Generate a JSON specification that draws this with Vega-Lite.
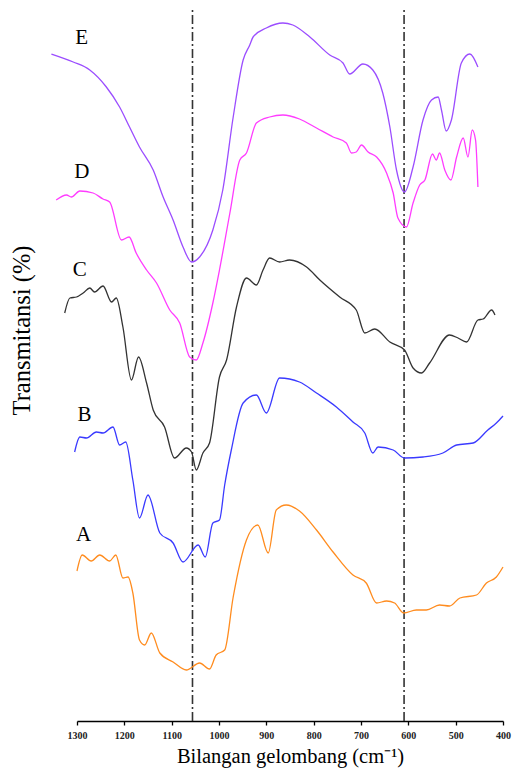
{
  "$schema": "https://vega.github.io/schema/vega-lite/v6.json",
  "width": 426,
  "height": 721,
  "autosize": {"type": "none"},
  "padding": {"left": 77, "top": 0, "right": 9, "bottom": 52},
  "background": "white",
  "config": {"view": {"stroke": null}, "font": "Liberation Serif"},
  "datasets": {
    "spectra": [
      {"s":"E","wn":1354,"t":667},{"s":"E","wn":1308,"t":659},{"s":"E","wn":1273,"t":651},{"s":"E","wn":1238,"t":634},{"s":"E","wn":1210,"t":614},{"s":"E","wn":1189,"t":594},{"s":"E","wn":1168,"t":574},{"s":"E","wn":1139,"t":551},{"s":"E","wn":1118,"t":524},{"s":"E","wn":1097,"t":501},{"s":"E","wn":1076,"t":474},{"s":"E","wn":1058,"t":459},{"s":"E","wn":1041,"t":464},{"s":"E","wn":1013,"t":491},{"s":"E","wn":992,"t":531},{"s":"E","wn":970,"t":604},{"s":"E","wn":949,"t":661},{"s":"E","wn":935,"t":676},{"s":"E","wn":928,"t":684},{"s":"E","wn":900,"t":693},{"s":"E","wn":865,"t":698},{"s":"E","wn":844,"t":696},{"s":"E","wn":808,"t":684},{"s":"E","wn":766,"t":666},{"s":"E","wn":738,"t":658},{"s":"E","wn":724,"t":647},{"s":"E","wn":696,"t":657},{"s":"E","wn":675,"t":651},{"s":"E","wn":654,"t":628},{"s":"E","wn":639,"t":594},{"s":"E","wn":625,"t":551},{"s":"E","wn":608,"t":529},{"s":"E","wn":590,"t":554},{"s":"E","wn":569,"t":601},{"s":"E","wn":551,"t":621},{"s":"E","wn":537,"t":624},{"s":"E","wn":530,"t":611},{"s":"E","wn":520,"t":590},{"s":"E","wn":509,"t":601},{"s":"E","wn":488,"t":658},{"s":"E","wn":470,"t":667},{"s":"E","wn":453,"t":654},
      {"s":"D","wn":1344,"t":521},{"s":"D","wn":1322,"t":526},{"s":"D","wn":1312,"t":524},{"s":"D","wn":1294,"t":530},{"s":"D","wn":1266,"t":528},{"s":"D","wn":1245,"t":522},{"s":"D","wn":1231,"t":519},{"s":"D","wn":1206,"t":481},{"s":"D","wn":1190,"t":484},{"s":"D","wn":1175,"t":468},{"s":"D","wn":1153,"t":451},{"s":"D","wn":1132,"t":438},{"s":"D","wn":1104,"t":411},{"s":"D","wn":1083,"t":398},{"s":"D","wn":1062,"t":364},{"s":"D","wn":1048,"t":361},{"s":"D","wn":1034,"t":378},{"s":"D","wn":1013,"t":418},{"s":"D","wn":999,"t":451},{"s":"D","wn":977,"t":508},{"s":"D","wn":956,"t":561},{"s":"D","wn":942,"t":568},{"s":"D","wn":921,"t":598},{"s":"D","wn":893,"t":604},{"s":"D","wn":865,"t":606},{"s":"D","wn":830,"t":602},{"s":"D","wn":794,"t":593},{"s":"D","wn":759,"t":584},{"s":"D","wn":731,"t":578},{"s":"D","wn":720,"t":568},{"s":"D","wn":710,"t":569},{"s":"D","wn":699,"t":576},{"s":"D","wn":685,"t":569},{"s":"D","wn":667,"t":564},{"s":"D","wn":646,"t":548},{"s":"D","wn":632,"t":528},{"s":"D","wn":622,"t":503},{"s":"D","wn":604,"t":494},{"s":"D","wn":590,"t":518},{"s":"D","wn":576,"t":536},{"s":"D","wn":565,"t":541},{"s":"D","wn":549,"t":567},{"s":"D","wn":541,"t":561},{"s":"D","wn":534,"t":568},{"s":"D","wn":523,"t":551},{"s":"D","wn":510,"t":541},{"s":"D","wn":498,"t":564},{"s":"D","wn":484,"t":583},{"s":"D","wn":474,"t":564},{"s":"D","wn":465,"t":591},{"s":"D","wn":458,"t":581},{"s":"D","wn":453,"t":534},
      {"s":"C","wn":1326,"t":408},{"s":"C","wn":1315,"t":423},{"s":"C","wn":1301,"t":424},{"s":"C","wn":1287,"t":428},{"s":"C","wn":1273,"t":433},{"s":"C","wn":1263,"t":429},{"s":"C","wn":1245,"t":435},{"s":"C","wn":1227,"t":419},{"s":"C","wn":1217,"t":423},{"s":"C","wn":1203,"t":394},{"s":"C","wn":1185,"t":341},{"s":"C","wn":1170,"t":364},{"s":"C","wn":1153,"t":338},{"s":"C","wn":1139,"t":311},{"s":"C","wn":1115,"t":294},{"s":"C","wn":1094,"t":263},{"s":"C","wn":1069,"t":273},{"s":"C","wn":1058,"t":269},{"s":"C","wn":1048,"t":251},{"s":"C","wn":1034,"t":268},{"s":"C","wn":1020,"t":278},{"s":"C","wn":999,"t":344},{"s":"C","wn":984,"t":361},{"s":"C","wn":963,"t":414},{"s":"C","wn":942,"t":443},{"s":"C","wn":921,"t":436},{"s":"C","wn":907,"t":451},{"s":"C","wn":893,"t":463},{"s":"C","wn":872,"t":459},{"s":"C","wn":851,"t":461},{"s":"C","wn":815,"t":454},{"s":"C","wn":787,"t":441},{"s":"C","wn":745,"t":424},{"s":"C","wn":710,"t":411},{"s":"C","wn":692,"t":388},{"s":"C","wn":671,"t":392},{"s":"C","wn":639,"t":379},{"s":"C","wn":608,"t":371},{"s":"C","wn":590,"t":353},{"s":"C","wn":572,"t":348},{"s":"C","wn":555,"t":358},{"s":"C","wn":513,"t":386},{"s":"C","wn":495,"t":383},{"s":"C","wn":477,"t":379},{"s":"C","wn":453,"t":401},{"s":"C","wn":442,"t":402},{"s":"C","wn":424,"t":411},{"s":"C","wn":417,"t":406},
      {"s":"B","wn":1305,"t":269},{"s":"B","wn":1294,"t":284},{"s":"B","wn":1280,"t":283},{"s":"B","wn":1259,"t":289},{"s":"B","wn":1245,"t":288},{"s":"B","wn":1224,"t":294},{"s":"B","wn":1210,"t":276},{"s":"B","wn":1197,"t":279},{"s":"B","wn":1182,"t":241},{"s":"B","wn":1168,"t":203},{"s":"B","wn":1150,"t":226},{"s":"B","wn":1125,"t":188},{"s":"B","wn":1097,"t":178},{"s":"B","wn":1076,"t":159},{"s":"B","wn":1044,"t":176},{"s":"B","wn":1029,"t":164},{"s":"B","wn":1013,"t":198},{"s":"B","wn":999,"t":201},{"s":"B","wn":988,"t":236},{"s":"B","wn":974,"t":271},{"s":"B","wn":949,"t":318},{"s":"B","wn":921,"t":326},{"s":"B","wn":900,"t":308},{"s":"B","wn":872,"t":343},{"s":"B","wn":830,"t":339},{"s":"B","wn":794,"t":328},{"s":"B","wn":752,"t":314},{"s":"B","wn":717,"t":299},{"s":"B","wn":692,"t":288},{"s":"B","wn":675,"t":268},{"s":"B","wn":664,"t":274},{"s":"B","wn":632,"t":271},{"s":"B","wn":608,"t":263},{"s":"B","wn":569,"t":264},{"s":"B","wn":527,"t":268},{"s":"B","wn":498,"t":276},{"s":"B","wn":463,"t":278},{"s":"B","wn":432,"t":291},{"s":"B","wn":414,"t":298},{"s":"B","wn":400,"t":305},
      {"s":"A","wn":1300,"t":150},{"s":"A","wn":1289,"t":166},{"s":"A","wn":1270,"t":160},{"s":"A","wn":1252,"t":166},{"s":"A","wn":1231,"t":160},{"s":"A","wn":1218,"t":166},{"s":"A","wn":1203,"t":143},{"s":"A","wn":1192,"t":144},{"s":"A","wn":1182,"t":128},{"s":"A","wn":1168,"t":81},{"s":"A","wn":1157,"t":76},{"s":"A","wn":1143,"t":88},{"s":"A","wn":1125,"t":68},{"s":"A","wn":1097,"t":59},{"s":"A","wn":1069,"t":51},{"s":"A","wn":1041,"t":58},{"s":"A","wn":1020,"t":52},{"s":"A","wn":1006,"t":66},{"s":"A","wn":988,"t":71},{"s":"A","wn":970,"t":124},{"s":"A","wn":942,"t":181},{"s":"A","wn":918,"t":196},{"s":"A","wn":896,"t":168},{"s":"A","wn":879,"t":211},{"s":"A","wn":858,"t":216},{"s":"A","wn":830,"t":210},{"s":"A","wn":794,"t":191},{"s":"A","wn":759,"t":169},{"s":"A","wn":717,"t":146},{"s":"A","wn":689,"t":138},{"s":"A","wn":667,"t":118},{"s":"A","wn":646,"t":120},{"s":"A","wn":629,"t":118},{"s":"A","wn":610,"t":108},{"s":"A","wn":583,"t":111},{"s":"A","wn":562,"t":111},{"s":"A","wn":534,"t":116},{"s":"A","wn":513,"t":115},{"s":"A","wn":491,"t":123},{"s":"A","wn":456,"t":126},{"s":"A","wn":435,"t":138},{"s":"A","wn":414,"t":144},{"s":"A","wn":400,"t":154}
    ],
    "labels": [
      {"s":"E","wn":1290,"t":683},{"s":"D","wn":1290,"t":549},{"s":"C","wn":1294,"t":451},{"s":"B","wn":1284,"t":306},{"s":"A","wn":1286,"t":186}
    ],
    "marks": [
      {"wn":1056,"top":711,"bottom":0},{"wn":609,"top":711,"bottom":0}
    ]
  },
  "layer": [
    {
      "data": {"name": "marks"},
      "mark": {"type": "rule", "color": "#333333", "strokeWidth": 1.6, "strokeDash": [9, 3, 2, 3]},
      "encoding": {
        "x": {"field": "wn", "type": "quantitative", "scale": {"domain": [400, 1300], "reverse": true, "nice": false, "zero": false}},
        "y": {"field": "bottom", "type": "quantitative", "scale": {"domain": [0, 721], "nice": false, "zero": false}},
        "y2": {"field": "top"}
      }
    },
    {
      "data": {"name": "spectra"},
      "mark": {"type": "line", "strokeWidth": 1.3, "interpolate": "monotone"},
      "encoding": {
        "x": {"field": "wn", "type": "quantitative", "scale": {"domain": [400, 1300], "reverse": true, "nice": false, "zero": false},
          "axis": {"title": "Bilangan gelombang (cm⁻¹)", "titleFont": "Liberation Serif", "titleFontSize": 20.5, "titleFontWeight": "normal", "titleColor": "black", "titlePadding": 6,
            "values": [1300,1250,1200,1150,1100,1050,1000,950,900,850,800,750,700,650,600,550,500,450,400],
            "labelExpr": "datum.value % 100 === 0 ? format(datum.value, 'd') : ''",
            "labelFont": "Liberation Serif", "labelFontSize": 10, "labelFontWeight": "bold", "labelColor": "#222222", "labelPadding": 5, "labelFlush": false, "labelOverlap": false,
            "tickSize": 4, "tickColor": "black", "tickWidth": 1.3, "domainColor": "black", "domainWidth": 1.5, "grid": false}},
        "y": {"field": "t", "type": "quantitative", "scale": {"domain": [0, 721], "nice": false, "zero": false},
          "axis": {"title": "Transmitansi (%)", "titleFont": "Liberation Serif", "titleFontSize": 24.5, "titleFontWeight": "normal", "titleColor": "black",
            "titleAngle": -90, "titleX": -55, "titleY": 330, "titleAlign": "center", "titleBaseline": "middle",
            "domain": false, "ticks": false, "labels": false, "grid": false}},
        "color": {"field": "s", "type": "nominal", "legend": null,
          "scale": {"domain": ["A","B","C","D","E"], "range": ["#ff8c1f","#3a3aff","#333333","#ff3cff","#9b4dff"]}}
      }
    },
    {
      "data": {"name": "labels"},
      "mark": {"type": "text", "font": "Liberation Serif", "fontSize": 21, "color": "black", "align": "center", "baseline": "middle"},
      "encoding": {
        "x": {"field": "wn", "type": "quantitative"},
        "y": {"field": "t", "type": "quantitative"},
        "text": {"field": "s"}
      }
    }
  ]
}
